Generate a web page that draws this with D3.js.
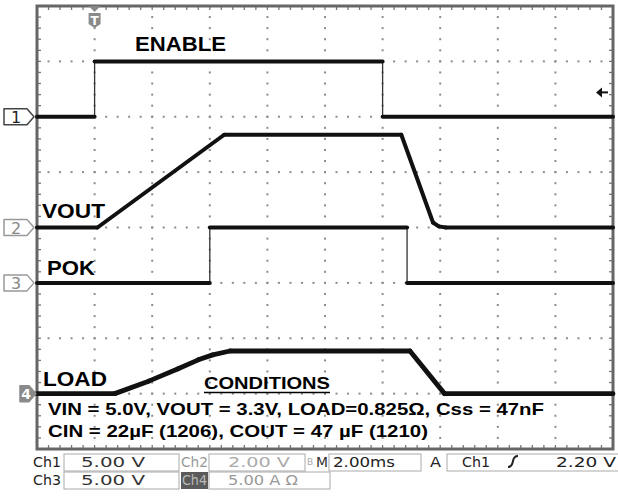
<!DOCTYPE html>
<html>
<head>
<meta charset="utf-8">
<script src="https://cdn.jsdelivr.net/npm/d3@7"></script>
<style>
  body { margin: 0; background: #fff; }
  svg { display: block; }
  .lbl { font-family: "Liberation Sans Narrow", "Liberation Sans", Arial, sans-serif; font-weight: bold; fill: #000; }
  .stat { font-family: "DejaVu Sans", "Liberation Sans", sans-serif; font-size: 14px; }
</style>
</head>
<body>
<svg id="scope" width="618" height="497"></svg>
<script>
// time base: 2 ms/div, trigger one division from the left edge
const timeDomain = [-2, 18];

// channel setup: volts (or amps) per division and ground position in divisions from top
const channels = ["1", "2", "3", "4"];
const chScale = [5, 2, 5, 5];
const chGround = [2, 4, 5, 7];

// ENABLE (ch1, V)
const enableT = [-2, 0, 0, 10, 10, 18];
const enableV = [0, 0, 5, 5, 0, 0];

// VOUT (ch2, V)
const voutT = [-2, 0.1, 4.5, 10.65, 11.75, 11.95, 12.2, 18];
const voutV = [0, 0, 3.35, 3.35, 0.18, 0.04, 0, 0];

// POK (ch3, V)
const pokT = [-2, 4.0, 4.0, 10.85, 10.85, 18];
const pokV = [0, 0, 5, 5, 0, 0];

// LOAD current (ch4, A)
const loadT = [-2, 0.7, 1.9, 2.9, 3.6, 4.1, 4.7, 10.95, 12.15, 18];
const loadA = [0, 0, 1.15, 2.25, 3.05, 3.5, 3.85, 3.85, 0, 0];

const traceLabels = ["ENABLE", "VOUT", "POK", "LOAD"];
const conditionLines = [
  "VIN = 5.0V, VOUT = 3.3V, LOAD=0.825\u03A9, Css = 47nF",
  "CIN = 22\u00B5F (1206), COUT = 47 \u00B5F (1210)"
];

const plotL = 37, plotR = 613, plotT = 6, plotB = 449;
const nx = 10, ny = 8;
const divH = (plotB - plotT) / ny;

const svg = d3.select("#scope");

const x = d3.scaleLinear().domain(timeDomain).range([plotL, plotR]);
const gridY = d3.scaleLinear().domain([0, ny]).range([plotT, plotB]);

// channel value -> pixel
function chY(ch, v) {
  return gridY(chGround[ch]) - v / chScale[ch] * divH;
}

// ---- graticule ----
const grid = svg.append("g").attr("class", "grid");
const dots = [];
for (let i = 1; i < nx; i++) {
  for (let k = 0; k <= ny * 5; k++) dots.push([plotL + (plotR - plotL) * i / nx, plotT + k * divH / 5]);
}
for (let j = 1; j < ny; j++) {
  for (let k = 0; k <= nx * 5; k++) dots.push([plotL + k * (plotR - plotL) / nx / 5, gridY(j)]);
}
grid.selectAll("rect.dot").data(dots).enter().append("rect")
  .attr("x", d => d[0] - 1).attr("y", d => d[1] - 1)
  .attr("width", 2).attr("height", 2)
  .attr("fill", "#8c8c8c");

// border ticks
const ticks = [];
for (let k = 1; k < nx * 5; k++) {
  const px = plotL + k * (plotR - plotL) / nx / 5;
  ticks.push([px, plotT, px, plotT + 4]);
  ticks.push([px, plotB, px, plotB - 4]);
}
for (let k = 1; k < ny * 5; k++) {
  const py = plotT + k * divH / 5;
  ticks.push([plotL, py, plotL + 4, py]);
  ticks.push([plotR, py, plotR - 4, py]);
}
grid.selectAll("line.tick").data(ticks).enter().append("line")
  .attr("x1", d => d[0]).attr("y1", d => d[1]).attr("x2", d => d[2]).attr("y2", d => d[3])
  .attr("stroke", "#777").attr("stroke-width", 1.3);

svg.append("rect")
  .attr("x", plotL).attr("y", plotT).attr("width", plotR - plotL).attr("height", plotB - plotT)
  .attr("fill", "none").attr("stroke", "#666").attr("stroke-width", 3);

// ---- traces ----
const traces = [
  { ch: 0, t: enableT, v: enableV },
  { ch: 1, t: voutT, v: voutV },
  { ch: 2, t: pokT, v: pokV },
  { ch: 3, t: loadT, v: loadA }
];

const line = d3.line().x(d => x(d[0])).y(d => d[1]);

traces.forEach(tr => {
  const pts = tr.t.map((t, i) => [t, chY(tr.ch, tr.v[i])]);
  // thin full path (fast edges stay thin)
  svg.append("path").datum(pts)
    .attr("d", line)
    .attr("fill", "none").attr("stroke", "#333").attr("stroke-width", 1.3);
  // thick segments where the trace moves slowly
  const slow = [];
  for (let i = 1; i < pts.length; i++) {
    if (pts[i][0] !== pts[i - 1][0]) slow.push([pts[i - 1], pts[i]]);
  }
  svg.append("g").selectAll("path").data(slow).enter().append("path")
    .attr("d", line)
    .attr("fill", "none").attr("stroke", "#111")
    .attr("stroke-width", tr.ch === 3 ? 4.8 : 4)
    .attr("stroke-linecap", "round");
});

// ---- channel markers ----
channels.forEach((c, i) => {
  const cy = gridY(chGround[i]);
  const g = svg.append("g").attr("transform", `translate(0,${cy})`);
  const filled = i === 3;
  const col = i === 0 ? "#444" : "#999";
  g.append("path")
    .attr("d", filled ? "M20,-8 L29,-8 L36,0 L29,8 L20,8 Z" : "M4,-8 L27,-8 L34,0 L27,8 L4,8 Z")
    .attr("fill", filled ? "#8a8a8a" : "#fff")
    .attr("stroke", filled ? "#8a8a8a" : col).attr("stroke-width", 1.5).attr("stroke-linejoin", "round");
  g.append("text").attr("x", filled ? 26 : 16).attr("y", filled ? 5 : 6)
    .attr("text-anchor", "middle")
    .style("font-family", "DejaVu Sans, sans-serif").style("font-size", filled ? "14px" : "16px")
    .style("font-weight", filled ? "bold" : "normal")
    .attr("fill", filled ? "#fff" : (i === 0 ? "#222" : "#888"))
    .text(c);
});

// trigger position marker
const tx = x(0);
svg.append("path").attr("d", `M${tx - 6},${plotT} L${tx + 6},${plotT} L${tx},${plotT + 6} Z`).attr("fill", "#888");
svg.append("path")
  .attr("d", `M${tx - 6},${plotT + 7} L${tx + 6},${plotT + 7} L${tx + 6},${plotT + 18} L${tx},${plotT + 22} L${tx - 6},${plotT + 18} Z`)
  .attr("fill", "#8a8a8a");
svg.append("text").attr("x", tx).attr("y", plotT + 18.5).attr("text-anchor", "middle")
  .style("font-family", "DejaVu Sans, sans-serif").style("font-size", "12px").style("font-weight", "bold")
  .attr("fill", "#fff").text("T");

// trigger level arrow (ch1, 2.20 V)
const trigY = chY(0, 2.2);
svg.append("line").attr("x1", 598).attr("x2", 608).attr("y1", trigY).attr("y2", trigY)
  .attr("stroke", "#111").attr("stroke-width", 2);
svg.append("path").attr("d", `M596,${trigY} L602,${trigY - 5} L602,${trigY + 5} Z`).attr("fill", "#111");

// ---- labels ----
const labelPos = [
  { x: 135, y: 51, w: 91, s: 21 },
  { x: 42, y: 218, w: 63, s: 21 },
  { x: 47, y: 275, w: 48, s: 21 },
  { x: 43, y: 386, w: 64, s: 21 }
];
traceLabels.forEach((t, i) => {
  svg.append("text").attr("class", "lbl")
    .attr("x", labelPos[i].x).attr("y", labelPos[i].y)
    .attr("textLength", labelPos[i].w).attr("lengthAdjust", "spacingAndGlyphs")
    .style("font-size", labelPos[i].s + "px").text(t);
});

svg.append("text").attr("class", "lbl")
  .attr("x", 204).attr("y", 389).attr("textLength", 126).attr("lengthAdjust", "spacingAndGlyphs")
  .style("font-size", "17px").text("CONDITIONS");
svg.append("line").attr("x1", 204).attr("x2", 330).attr("y1", 392.5).attr("y2", 392.5)
  .attr("stroke", "#000").attr("stroke-width", 1.6);

const condW = [496, 380];
conditionLines.forEach((t, i) => {
  svg.append("text").attr("class", "lbl")
    .attr("x", 48).attr("y", 415 + i * 22)
    .attr("textLength", condW[i]).attr("lengthAdjust", "spacingAndGlyphs")
    .style("font-size", "17px").text(t);
});

// ---- status bar ----
const row1 = 467, row2 = 485;
const status = svg.append("g").attr("class", "stat");
const boxes = [
  [64, row1 - 13, 115, 17], [209, row1 - 13, 96, 17], [329, row1 - 13, 92, 17], [447, row1 - 13, 175, 17],
  [64, row2 - 13, 115, 17], [209, row2 - 13, 121, 17]
];
status.selectAll("rect.box").data(boxes).enter().append("rect")
  .attr("x", d => d[0]).attr("y", d => d[1]).attr("width", d => d[2]).attr("height", d => d[3])
  .attr("fill", "#fff").attr("stroke", "#aaa").attr("stroke-width", 1);
status.append("rect").attr("x", 181).attr("y", row2 - 13).attr("width", 27).attr("height", 17).attr("fill", "#5a5a5a");

const statTexts = [
  ["Ch1", 33, row1, "#222", 28],
  ["5.00 V", 81, row1, "#333", 64],
  ["Ch2", 181, row1, "#999", 27],
  ["2.00 V", 228, row1, "#aaa", 62],
  ["M", 316, row1, "#333", 12],
  ["2.00ms", 333, row1, "#222", 62],
  ["A", 430, row1, "#222", 11],
  ["Ch1", 462, row1, "#222", 28],
  ["2.20 V", 556, row1, "#222", 60],
  ["Ch3", 33, row2, "#222", 28],
  ["5.00 V", 81, row2, "#333", 64],
  ["Ch4", 182, row2, "#bbb", 25],
  ["5.00 A \u03A9", 228, row2, "#999", 70]
];
statTexts.forEach(s => {
  status.append("text").attr("x", s[1]).attr("y", s[2]).attr("fill", s[3])
    .attr("textLength", s[4]).attr("lengthAdjust", "spacingAndGlyphs").text(s[0]);
});
// small bandwidth-limit glyph before "M"
status.append("text").attr("x", 307).attr("y", row1 - 2).attr("fill", "#aaa")
  .style("font-size", "9px").text("B");
// rising-edge symbol
status.append("path").attr("d", `M508,${row1} Q512,${row1} 513,${row1 - 6} Q514,${row1 - 11} 518,${row1 - 11}`)
  .attr("fill", "none").attr("stroke", "#222").attr("stroke-width", 2);
</script>
</body>
</html>
